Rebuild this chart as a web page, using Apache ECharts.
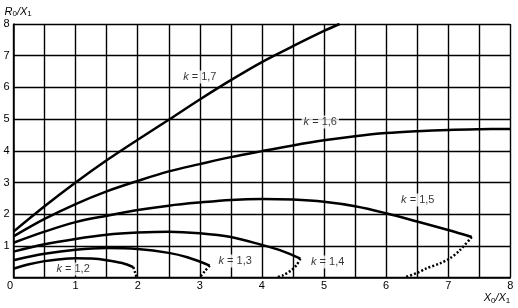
<!DOCTYPE html>
<html><head><meta charset="utf-8">
<script src="https://cdn.jsdelivr.net/npm/echarts@6/dist/echarts.min.js"></script>
<style>html,body{margin:0;padding:0;background:#fff}#c{width:518px;height:308px}</style>
</head><body><div id="c"></div>
<script>
// Curves (solid part) [X0/X1, R0/X1]
const k17 = [[0,1.45],[0.5,2.25],[1,3.0],[1.5,3.7],[2,4.35],[2.5,4.98],[3,5.62],[3.5,6.23],[4,6.8],[4.5,7.3],[5,7.78],[5.25,8.0]];
const k16 = [[0,1.3],[0.5,1.85],[1,2.32],[1.5,2.72],[2,3.05],[2.5,3.35],[3,3.58],[3.5,3.8],[4,3.99],[4.5,4.17],[5,4.33],[5.5,4.46],[6,4.56],[6.5,4.62],[7,4.66],[7.5,4.68],[8,4.69]];
const k15 = [[0,1.1],[0.5,1.45],[1,1.75],[1.5,1.95],[2,2.13],[2.5,2.27],[3,2.37],[3.5,2.45],[4,2.48],[4.5,2.46],[5,2.39],[5.5,2.25],[6,2.03],[6.5,1.77],[7,1.5],[7.38,1.28]];
const k14 = [[0,0.82],[0.5,1.05],[1,1.22],[1.5,1.35],[2,1.42],[2.5,1.45],[3,1.4],[3.5,1.28],[4,1.03],[4.3,0.86],[4.62,0.6]];
const k13 = [[0,0.55],[0.5,0.75],[1,0.88],[1.5,0.93],[2,0.9],[2.5,0.78],[2.8,0.64],[3.16,0.38]];
const k12 = [[0,0.28],[0.25,0.42],[0.5,0.52],[0.75,0.58],[1,0.61],[1.25,0.6],[1.5,0.55],[1.75,0.46],[1.93,0.33]];
// Dotted limit parts
const k15d = [[7.38,1.28],[7.19,0.87],[7.03,0.61],[6.87,0.45],[6.65,0.29],[6.49,0.14],[6.32,0.02]];
const k14d = [[4.62,0.6],[4.56,0.4],[4.48,0.24],[4.35,0.08],[4.24,0.01]];
const k13d = [[3.16,0.38],[3.08,0.2],[3.0,0.01]];
const k12d = [[1.93,0.33],[1.96,0.15],[1.98,0.01]];
// Curve labels
const curveLabels = ['1,7','1,6','1,5','1,4','1,3','1,2'];
const labelPos = [[3.0,6.33],[4.94,4.91],[6.51,2.45],[5.06,0.49],[3.57,0.52],[0.96,0.27]];
const xTicks = [0,1,2,3,4,5,6,7,8];
const yTicks = [1,2,3,4,5,6,7,8];

const font = '"Liberation Sans", Arial, sans-serif';
const solid = (d) => ({type:'line', data:d, smooth:0.35, showSymbol:false, silent:true,
  lineStyle:{color:'#000', width:2.5}, z:3});
const dotted = (d) => ({type:'line', data:d, smooth:0.3, showSymbol:false, silent:true,
  lineStyle:{color:'#000', width:2.5, type:[2,2]}, z:3});

const chart = echarts.init(document.getElementById('c'), null, {renderer:'canvas'});
chart.setOption({
  animation:false,
  backgroundColor:'#fff',
  grid:{left:13.5, right:7.7, top:24, bottom:30.4, containLabel:false},
  xAxis:{type:'value', min:0, max:8, interval:0.5,
    name:'X{s|0}/X{s|1}', nameLocation:'end', nameGap:0,
    nameTextStyle:{fontFamily:font, fontSize:11, fontStyle:'italic', color:'#000',
      align:'right', verticalAlign:'top', padding:[14,0,0,0],
      rich:{s:{fontFamily:font, fontSize:8, fontStyle:'normal', color:'#000', verticalAlign:'top', padding:[5,0,0,0]}}},
    axisLine:{show:true, onZero:false, lineStyle:{color:'#000', width:1.5}},
    axisTick:{show:false},
    splitLine:{show:true, lineStyle:{color:'#000', width:1.4}},
    axisLabel:{fontFamily:font, fontSize:11, color:'#000', margin:3, showMinLabel:true, showMaxLabel:true,
      formatter:(v)=> xTicks.indexOf(v)<0 ? '' : (v===0 ? '{z|0}' : String(v)),
      rich:{z:{fontFamily:font, fontSize:11, color:'#000', padding:[0,7,0,0]}}}
  },
  yAxis:{type:'value', min:0, max:8, interval:1,
    name:'R{s|0}/X{s|1}', nameLocation:'end', nameGap:6,
    nameTextStyle:{fontFamily:font, fontSize:11, fontStyle:'italic', color:'#000',
      align:'left', padding:[0,0,0,-9],
      rich:{s:{fontFamily:font, fontSize:8, fontStyle:'normal', color:'#000', verticalAlign:'top', padding:[5,0,0,0]}}},
    axisLine:{show:true, onZero:false, lineStyle:{color:'#000', width:1.5}},
    axisTick:{show:false},
    splitLine:{show:true, lineStyle:{color:'#000', width:1.4}},
    axisLabel:{fontFamily:font, fontSize:11, color:'#000', margin:4, showMaxLabel:true,
      formatter:(v)=> yTicks.indexOf(v)<0 ? '' : String(v)}
  },
  series:[
    solid(k17), solid(k16), solid(k15), solid(k14), solid(k13), solid(k12),
    dotted(k15d), dotted(k14d), dotted(k13d), dotted(k12d),
    {type:'scatter', symbolSize:0, silent:true, z:5,
      data: labelPos.map((p,i)=>({value:p, name:curveLabels[i]})),
      label:{show:true, position:'inside', formatter:(p)=>'{i|k} = '+p.name,
        fontFamily:font, fontSize:11, color:'#000', backgroundColor:'#fff', padding:[1,2,1,2],
        rich:{i:{fontFamily:font, fontSize:11, fontStyle:'italic', color:'#000'}}}}
  ]
});
</script>
</body></html>
